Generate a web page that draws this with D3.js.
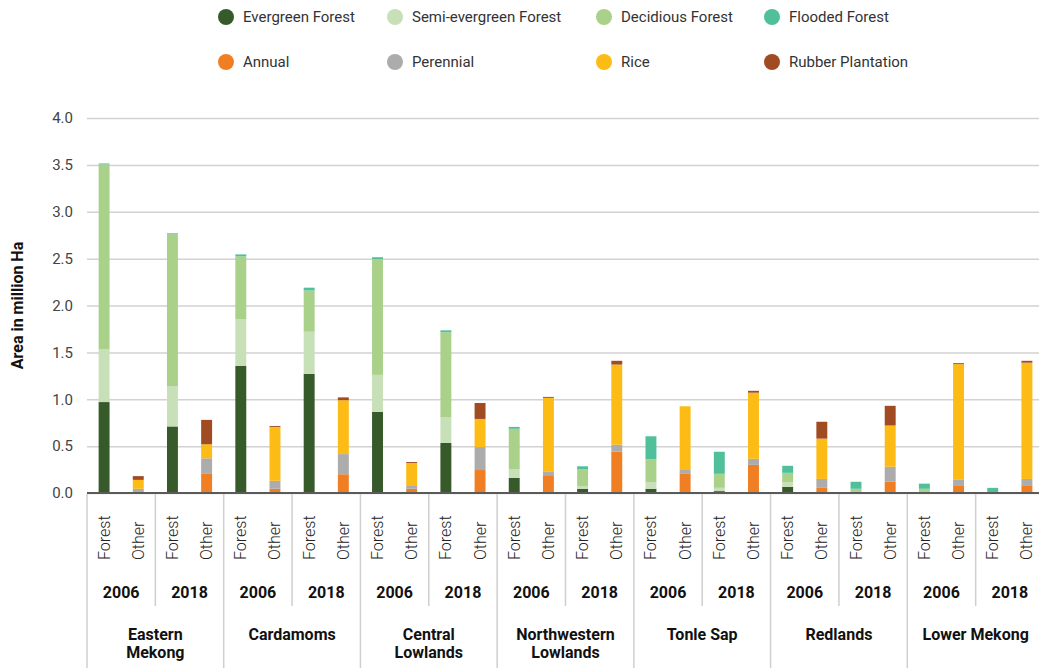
<!DOCTYPE html>
<html>
<head>
<meta charset="utf-8">
<script src="https://cdn.jsdelivr.net/npm/d3@7"></script>
<style>
  html, body { margin: 0; padding: 0; background: #fff; }
  svg { display: block; font-family: Roboto, "Noto Sans", sans-serif; }
</style>
</head>
<body>
<svg id="chart" width="1039" height="668"></svg>
<script>
// ---- Data ----
const regions = ["Eastern Mekong", "Cardamoms", "Central Lowlands", "Northwestern Lowlands", "Tonle Sap", "Redlands", "Lower Mekong"];
const regionLines = [["Eastern", "Mekong"], ["Cardamoms"], ["Central", "Lowlands"], ["Northwestern", "Lowlands"], ["Tonle Sap"], ["Redlands"], ["Lower Mekong"]];
const years = ["2006", "2018"];
const barTypes = ["Forest", "Other"];
const yTicks = [0, 0.5, 1.0, 1.5, 2.0, 2.5, 3.0, 3.5, 4.0];

const seriesNames = ["Evergreen Forest", "Semi-evergreen Forest", "Decidious Forest", "Flooded Forest", "Annual", "Perennial", "Rice", "Rubber Plantation"];
const seriesColors = ["#375a2b", "#c7e0b8", "#aad18a", "#50c09b", "#f07f24", "#acacac", "#fdbb16", "#a14b23"];

// values per region-year (order: EM06, EM18, Car06, Car18, CL06, CL18, NWL06, NWL18, TS06, TS18, Red06, Red18, LM06, LM18)
const evergreen     = [0.97, 0.71, 1.355, 1.27, 0.865, 0.535, 0.16, 0.045, 0.045, 0.02, 0.065, 0, 0, 0];
const semiEvergreen = [0.565, 0.43, 0.50, 0.45, 0.395, 0.275, 0.095, 0.03, 0.07, 0.035, 0.05, 0.01, 0.005, 0];
const deciduous     = [1.97, 1.62, 0.67, 0.44, 1.235, 0.905, 0.43, 0.18, 0.245, 0.15, 0.10, 0.035, 0.04, 0];
const flooded       = [0.01, 0.01, 0.02, 0.03, 0.02, 0.02, 0.02, 0.03, 0.245, 0.235, 0.075, 0.075, 0.055, 0.055];
const annual        = [0, 0.21, 0.045, 0.20, 0.045, 0.245, 0.19, 0.44, 0.21, 0.30, 0.055, 0.12, 0.075, 0.075];
const perennial     = [0.045, 0.16, 0.085, 0.215, 0.03, 0.245, 0.035, 0.075, 0.035, 0.065, 0.095, 0.16, 0.065, 0.075];
const rice          = [0.095, 0.15, 0.575, 0.575, 0.245, 0.30, 0.79, 0.855, 0.68, 0.705, 0.43, 0.44, 1.235, 1.24];
const rubber        = [0.04, 0.26, 0.01, 0.03, 0.01, 0.17, 0.01, 0.04, 0, 0.02, 0.18, 0.21, 0.01, 0.02];

const forestSeries = [evergreen, semiEvergreen, deciduous, flooded];
const otherSeries = [annual, perennial, rice, rubber];

// ---- Build table ----
const rows = [];
regions.forEach((r, ri) => {
  years.forEach((y, yi) => {
    const gi = ri * 2 + yi;
    barTypes.forEach((t, ti) => {
      const row = { region: r, year: y, type: t, key: r + "|" + y + "|" + t, group: gi };
      seriesNames.forEach((s, si) => {
        const isForest = si < 4;
        if (t === "Forest") row[s] = isForest ? forestSeries[si][gi] : 0;
        else row[s] = isForest ? 0 : otherSeries[si - 4][gi];
      });
      rows.push(row);
    });
  });
});

// ---- Layout ----
const svg = d3.select("#chart");
const x0 = 87, x1 = 1044;
const yScale = d3.scaleLinear().domain([0, 4]).range([493, 118]);
const xBar = d3.scaleBand().domain(rows.map(d => d.key)).range([x0, x1]).paddingInner(0.68).paddingOuter(0.34);
const groupKeys = d3.range(regions.length * years.length);
const xGroup = d3.scaleBand().domain(groupKeys).range([x0, x1]);
const xRegion = d3.scaleBand().domain(regions).range([x0, x1]);
const color = d3.scaleOrdinal().domain(seriesNames).range(seriesColors);

// ---- Y axis with gridlines ----
const yAxis = d3.axisLeft(yScale)
  .tickValues(yTicks)
  .tickFormat(d3.format(".1f"))
  .tickSize(-(x1 - x0))
  .tickPadding(14);
const gy = svg.append("g").attr("transform", `translate(${x0},0)`).call(yAxis);
gy.select(".domain").remove();
gy.selectAll(".tick line").attr("stroke", "#d2d2d2").attr("stroke-width", 1.5);
gy.selectAll(".tick text").attr("fill", "#444").style("font-size", "15px").style("font-family", "Roboto, sans-serif");

svg.append("text")
  .attr("transform", `translate(17,${yScale(2)}) rotate(-90)`)
  .attr("text-anchor", "middle")
  .attr("dominant-baseline", "central")
  .style("font-size", "16px")
  .style("font-weight", "bold")
  .attr("fill", "#111")
  .text("Area in million Ha");

// ---- Bars ----
const stacked = d3.stack().keys(seriesNames)(rows);
svg.append("g").selectAll("g")
  .data(stacked)
  .join("g")
  .attr("fill", d => color(d.key))
  .selectAll("rect")
  .data(d => d)
  .join("rect")
  .attr("x", d => xBar(d.data.key))
  .attr("width", xBar.bandwidth())
  .attr("y", d => yScale(d[1]))
  .attr("height", d => Math.max(0, yScale(d[0]) - yScale(d[1])));

// ---- X axis baseline ----
svg.append("line")
  .attr("x1", x0).attr("x2", x1)
  .attr("y1", yScale(0)).attr("y2", yScale(0))
  .attr("stroke", "#5a5a5a").attr("stroke-width", 2);

// ---- Separators ----
const sep = svg.append("g").attr("stroke", "#cfcfcf").attr("stroke-width", 1.5);
groupKeys.forEach(g => {
  const xs = xGroup(g);
  const isRegion = g % 2 === 0;
  sep.append("line").attr("x1", xs).attr("x2", xs)
    .attr("y1", yScale(0) + 1).attr("y2", isRegion ? 668 : 606);
});
sep.append("line").attr("x1", x1).attr("x2", x1).attr("y1", yScale(0) + 1).attr("y2", 668);

// ---- Bar type labels ----
svg.append("g").selectAll("text")
  .data(rows)
  .join("text")
  .attr("transform", d => `translate(${xBar(d.key) + xBar.bandwidth() / 2 + 5.5},560) rotate(-90)`)
  .attr("text-anchor", "start")
  .style("font-size", "16px")
  .style("font-weight", 300)
  .attr("fill", "#222")
  .text(d => d.type);

// ---- Year labels ----
svg.append("g").selectAll("text")
  .data(groupKeys)
  .join("text")
  .attr("x", g => xGroup(g) + xGroup.bandwidth() / 2)
  .attr("y", 598)
  .attr("text-anchor", "middle")
  .style("font-size", "16px")
  .style("font-weight", "bold")
  .attr("fill", "#111")
  .text(g => years[g % 2]);

// ---- Region labels ----
const rg = svg.append("g").selectAll("text")
  .data(regions)
  .join("text")
  .attr("x", r => xRegion(r) + xRegion.bandwidth() / 2)
  .attr("y", 640)
  .attr("text-anchor", "middle")
  .style("font-size", "16px")
  .style("font-weight", "bold")
  .attr("fill", "#111");
rg.each(function(r, i) {
  const t = d3.select(this);
  regionLines[i].forEach((line, li) => {
    t.append("tspan")
      .attr("x", xRegion(r) + xRegion.bandwidth() / 2)
      .attr("dy", li === 0 ? 0 : 18)
      .text(line);
  });
});

// ---- Legend ----
const legendX = [226, 395, 604, 772];
const legendY = [17, 62];
const lg = svg.append("g").selectAll("g")
  .data(seriesNames)
  .join("g")
  .attr("transform", (d, i) => `translate(${legendX[i % 4]},${legendY[Math.floor(i / 4)]})`);
lg.append("circle").attr("r", 8).attr("fill", d => color(d));
lg.append("text")
  .attr("x", 17)
  .attr("dominant-baseline", "central")
  .style("font-size", "15px")
  .attr("fill", "#333")
  .text(d => d);
</script>
</body>
</html>
